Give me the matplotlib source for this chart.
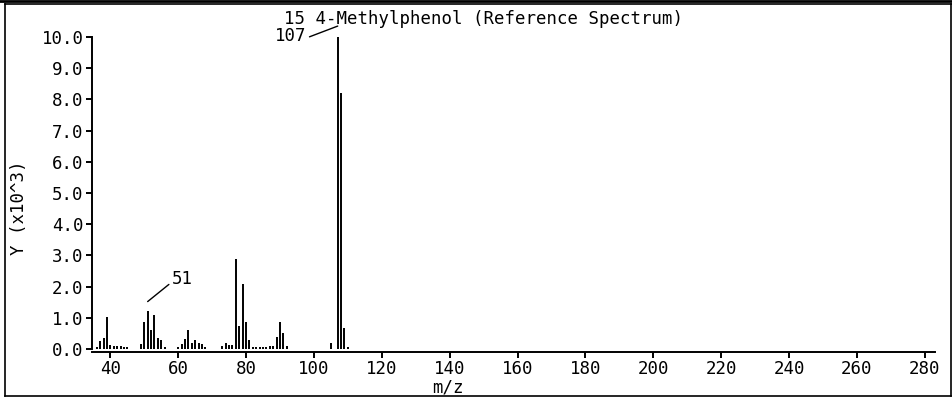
import matplotlib
matplotlib.use("Agg")
import matplotlib.pyplot as plt
from matplotlib.lines import Line2D

# m/z values and intensities (x10^3)
mz = [36, 37, 38, 39, 40, 41, 42, 43, 44, 45,
      49, 50, 51, 52, 53, 54, 55, 56,
      60, 61, 62, 63, 64, 65, 66, 67, 68,
      73, 74, 75, 76, 77, 78, 79, 80, 81, 82,
      83, 84, 85, 86, 87, 88, 89, 90, 91, 92,
      105, 107, 108, 109, 110]
intensity = [0.06, 0.25, 0.35, 1.03, 0.14, 0.10, 0.09, 0.09, 0.05, 0.05,
             0.17, 0.86, 1.22, 0.61, 1.10, 0.35, 0.30, 0.05,
             0.05, 0.15, 0.33, 0.60, 0.20, 0.28, 0.18, 0.15, 0.07,
             0.10, 0.20, 0.12, 0.12, 2.87, 0.74, 2.08, 0.85, 0.30, 0.08,
             0.05, 0.06, 0.07, 0.07, 0.10, 0.10, 0.37, 0.85, 0.50, 0.10,
             0.20, 10.0, 8.20, 0.67, 0.05]
x_ticks = list(range(40, 281, 20))
y_ticks = [i * 1.0 for i in range(11)]

title = "15 4-Methylphenol (Reference Spectrum)"
mono = "DejaVu Sans Mono"
fs = 12.5

W, H = 953, 397
fig = plt.figure(figsize=(W / 100, H / 100), dpi=100)
fig.patch.set_facecolor("white")


def fx(px):
    return px / W


def fy(py):
    return 1 - py / H


ax = fig.add_axes([fx(92), fy(352), fx(935) - fx(92), fy(37) - fy(352)])
ax.vlines(mz, 0, intensity, colors="black", lw=1.4)
ax.set_xlim(34.6, 283)
ax.set_ylim(-0.096, 10.0)

ax.spines["top"].set_visible(False)
ax.spines["right"].set_visible(False)
ax.spines["left"].set_bounds(0, 10)
ax.spines["left"].set_linewidth(1.4)
ax.spines["bottom"].set_linewidth(1.4)

ax.set_xticks(x_ticks)
ax.set_xticklabels([str(t) for t in x_ticks], family=mono, fontsize=fs)
ax.set_yticks(y_ticks)
ax.set_yticklabels([f"{t:.1f}" for t in y_ticks], family=mono, fontsize=fs)
ax.tick_params(axis="both", direction="out", length=4, width=1.4, pad=2)

# peak labels with leader lines
ax.annotate("107", xy=(107, 10.35), xytext=(-31, -10),
            textcoords="offset pixels", ha="right", va="center",
            family=mono, fontsize=fs, annotation_clip=False,
            arrowprops=dict(arrowstyle="-", lw=1, color="black",
                            shrinkA=0, shrinkB=0, relpos=(1, 0.4)))
ax.annotate("51", xy=(51, 1.52), xytext=(24, 23),
            textcoords="offset pixels", ha="left", va="center",
            family=mono, fontsize=fs, annotation_clip=False,
            arrowprops=dict(arrowstyle="-", lw=1, color="black",
                            shrinkA=0, shrinkB=0, relpos=(0, 0.3)))

fig.text(fx(284), fy(19), title, family=mono, fontsize=fs,
         ha="left", va="center")
fig.text(fx(19), fy(208), "Y (x10^3)", family=mono, fontsize=fs,
         rotation=90, ha="center", va="center")
fig.text(fx(448), fy(388), "m/z", family=mono, fontsize=fs,
         ha="center", va="center")

# outer frame
frame = [((0, W), (1, 1), 2.0), ((4.5, W), (4, 4), 1.2),
         ((4.5, 4.5), (4, 396), 1.2), ((951, 951), (4, 396), 1.2),
         ((4.5, 951), (396, 396), 1.2)]
for xs, ys, lw in frame:
    fig.add_artist(Line2D([fx(v) for v in xs], [fy(v) for v in ys],
                          transform=fig.transFigure, color="black", lw=lw))

fig.savefig("out.png", dpi=100)
